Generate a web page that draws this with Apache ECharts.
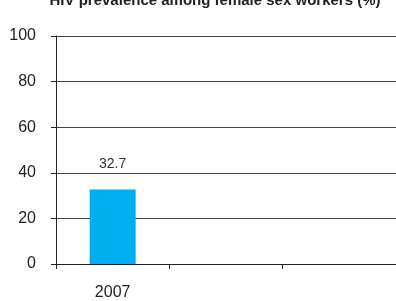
<!DOCTYPE html>
<html>
<head>
<meta charset="utf-8">
<script src="https://cdn.jsdelivr.net/npm/echarts@6/dist/echarts.min.js"></script>
<style>
  html, body { margin: 0; padding: 0; background: #fff; }
  #main { width: 396px; height: 301px; }
</style>
</head>
<body>
<div id="main"></div>
<script>
// data
const chartTitle = "HIV prevalence among female sex workers (%)";
const years = ["2007", "", ""];
const prevalence = [32.7, null, null];

const narrow = "'Liberation Sans Narrow', 'Arial Narrow', 'Liberation Sans', sans-serif";

const chart = echarts.init(document.getElementById("main"));

const option = {
  animation: false,
  backgroundColor: "#fff",
  title: {
    text: chartTitle,
    left: 210,
    textAlign: "center",
    top: -12,
    textStyle: {
      fontFamily: "Liberation Sans",
      fontSize: 15,
      fontWeight: "bold",
      color: "#222",
    },
  },
  grid: { left: 56, right: -4, top: 36, bottom: 36 },
  xAxis: {
    type: "category",
    data: years,
    axisLine: { lineStyle: { color: "#222", width: 1 } },
    axisTick: { show: true, length: 5, lineStyle: { color: "#222" } },
    axisLabel: {
      margin: 21,
      fontFamily: narrow,
      fontSize: 16,
      color: "#222",
    },
  },
  yAxis: {
    type: "value",
    min: 0,
    max: 100,
    interval: 20,
    axisLine: { show: true, lineStyle: { color: "#222", width: 1 } },
    axisTick: { show: true, length: 5, lineStyle: { color: "#222" } },
    axisLabel: {
      margin: 20,
      fontFamily: narrow,
      fontSize: 16,
      color: "#222",
    },
    splitLine: { lineStyle: { color: "#444", width: 1 } },
  },
  series: [
    {
      type: "bar",
      data: prevalence,
      barWidth: 46,
      itemStyle: { color: "#00adef" },
      label: {
        show: true,
        position: "top",
        distance: 18,
        fontFamily: narrow,
        fontSize: 14,
        color: "#333",
      },
    },
  ],
};

chart.setOption(option);
</script>
</body>
</html>
